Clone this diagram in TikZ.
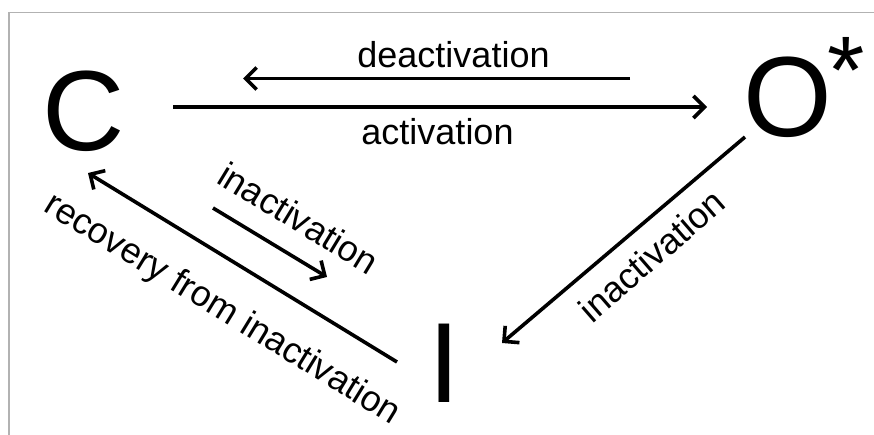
\documentclass[tikz,border=0pt]{standalone}
\usepackage{fontspec}
\setmainfont{Liberation Sans}
\usetikzlibrary{arrows.meta}
\begin{document}
\begin{tikzpicture}[x=1pt,y=-1pt,
  state/.style={font=\fontsize{114}{114}\selectfont, inner sep=0pt, anchor=base},
  lbl/.style={font=\fontsize{36}{36}\selectfont, inner sep=0pt, anchor=base},
  arr/.style={line width=3.6pt, -{Straight Barb[length=11pt,width=22pt]}},
  frame/.style={line width=1.2pt, black!30}]
\useasboundingbox (0,0) rectangle (874,435);
\draw[frame] (874,12.7) -- (9,12.7) -- (9,435);
% states
\node[state] (C) at (83.5,150.6) {C};
\node[state] (O) at (787.5,136.5) {O};
\node[font=\fontsize{96}{96}\selectfont, inner sep=0pt, anchor=north] (Ostar) at (846.5,37) {*};
\node[state] (I) at (444,402) {I};
% connector end points
\coordinate (deaS) at (630,78.5);
\coordinate (deaE) at (243,78.5);
\coordinate (actS) at (173,107);
\coordinate (actE) at (707,107);
\coordinate (oiS) at (745,137);
\coordinate (oiE) at (502,343);
\coordinate (ciS) at (213,208);
\coordinate (ciE) at (327,277);
\coordinate (recS) at (397,362);
\coordinate (recE) at (88,173);
% connectors
\draw[arr] (deaS) -- (deaE);
\draw[arr] (actS) -- (actE);
\draw[arr] (oiS) -- (oiE);
\draw[arr] (ciS) -- (ciE);
\draw[arr] (recS) -- (recE);
% labels
\node[lbl] (ldea) at (453.5,68) {deactivation};
\node[lbl] (lact) at (437.5,145) {activation};
\node[lbl, rotate=-31.3] (lci) at (292,229) {inactivation};
\node[lbl, rotate=-31.5] (lrec) at (217,318) {recovery from inactivation};
\node[lbl, rotate=41] (loi) at (660,265) {inactivation};
\end{tikzpicture}
\end{document}
